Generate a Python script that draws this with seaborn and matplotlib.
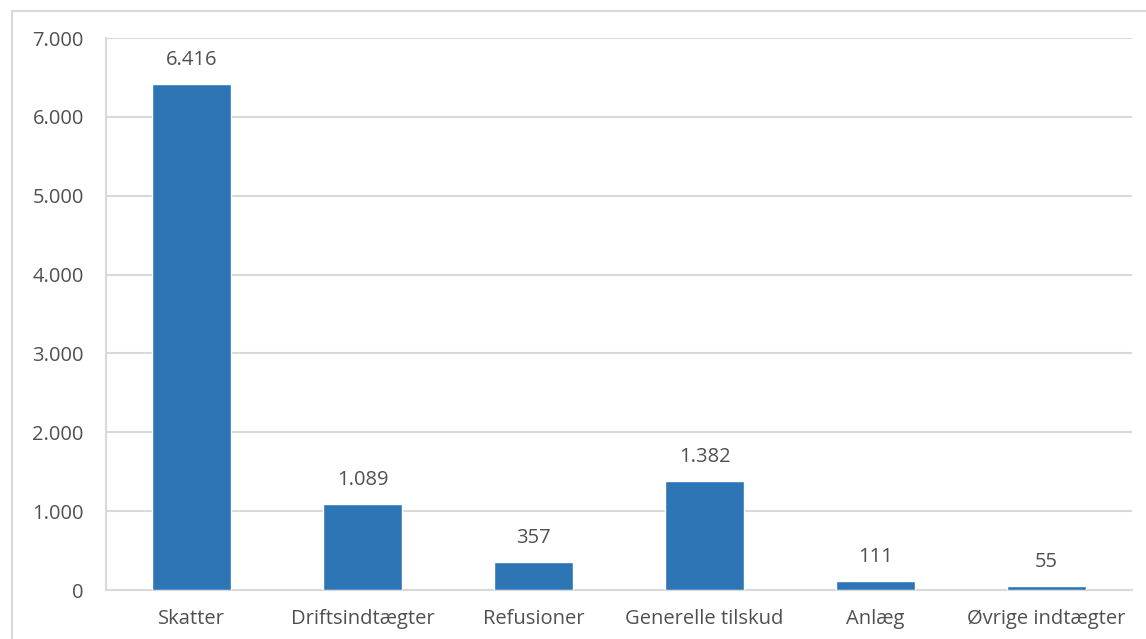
import matplotlib
matplotlib.use("Agg")
from matplotlib import pyplot as plt
from matplotlib.lines import Line2D
import seaborn as sns
import pandas as pd

categories = ["Skatter", "Driftsindtægter", "Refusioner", "Generelle tilskud", "Anlæg", "Øvrige indtægter"]
values = [6416, 1089, 357, 1382, 111, 55]
yticks = [0, 1000, 2000, 3000, 4000, 5000, 6000, 7000]

def dk(v):
    # danish thousands separator
    return f"{v:,.0f}".replace(",", ".")

sns.set_theme(style="white")
plt.rcParams['font.family'] = ['Open Sans', 'DejaVu Sans']

text_col = "#505050"
grid_col = "#D9D9D9"
bar_col = "#2E75B6"
fs = 14.5

W, H = 1146, 639
fig = plt.figure(figsize=(W / 100, H / 100), dpi=100)
ax = fig.add_axes([106 / W, 1 - 590 / H, (1132 - 106) / W, (590 - 38) / H])

df = pd.DataFrame({"kategori": categories, "beloeb": values})
sns.barplot(data=df, x="kategori", y="beloeb", color=bar_col, saturation=1,
            width=0.463, ax=ax, zorder=3)

ax.set_ylim(0, 7000)
ax.set_xlim(-0.5, len(categories) - 0.5)
ax.set_yticks(yticks)
ax.set_yticklabels([dk(t) for t in yticks])
ax.set_xlabel("")
ax.set_ylabel("")
ax.yaxis.grid(True, color=grid_col, linewidth=1.5, zorder=0)
ax.set_axisbelow(True)

for s in ["top", "right"]:
    ax.spines[s].set_visible(False)
for s in ["left", "bottom"]:
    ax.spines[s].set_color(grid_col)
    ax.spines[s].set_linewidth(1.5)

ax.tick_params(axis="both", length=0, labelsize=fs, labelcolor=text_col)
ax.tick_params(axis="y", pad=16)
ax.tick_params(axis="x", pad=14)

ax.bar_label(ax.containers[0], labels=[dk(v) for v in values], padding=10,
             fontsize=fs, color=text_col)

# outer chart frame (top and left visible)
fig.add_artist(Line2D([12 / W, 1], [1 - 11 / H, 1 - 11 / H], color=grid_col, linewidth=1.5,
                      transform=fig.transFigure))
fig.add_artist(Line2D([12 / W, 12 / W], [0, 1 - 11 / H], color=grid_col, linewidth=1.5,
                      transform=fig.transFigure))

fig.savefig("out.png", dpi=100)
